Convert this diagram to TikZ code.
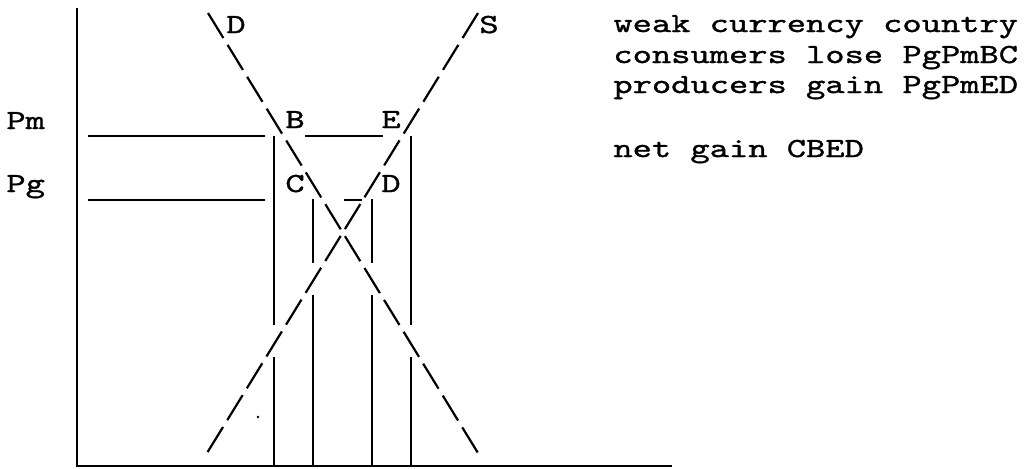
\documentclass[tikz,border=0pt]{standalone}
\usepackage{fontspec}
% slab-serif typewriter face, widened to the typed pitch
\newfontfamily\typer[FakeStretch=1.33,FakeBold=1.2]{lmmono10-regular.otf}
\begin{document}
\begin{tikzpicture}[x=0.5pt,y=-0.5pt,
  rule/.style={line width=1.1pt},
  curve/.style={line width=1.1pt, dash pattern=on 14.7pt off 4pt},
  lbl/.style={anchor=base west, inner sep=0pt, font=\typer\fontsize{13.8}{16}\selectfont}]
\useasboundingbox (0,0) rectangle (1034,468);

% axes
\coordinate (O) at (77,466);
\coordinate (ytop) at (77,8);
\coordinate (xend) at (672,466);
\draw[rule] (ytop) -- (O) -- (xend);

% price levels
\coordinate (pmL) at (88,136);  \coordinate (pmR) at (265,136);
\coordinate (beL) at (305,136); \coordinate (beR) at (383,136);
\coordinate (pgL) at (88,200);  \coordinate (pgR) at (265,200);
\coordinate (cdL) at (344,200); \coordinate (cdR) at (362,200);
\draw[rule] (pmL) -- (pmR) (beL) -- (beR) (pgL) -- (pgR) (cdL) -- (cdR);

% quantity drops (broken where the curves pass)
\coordinate (a1) at (274,136); \coordinate (a2) at (274,325);
\coordinate (a3) at (274,357); \coordinate (a4) at (274,466);
\coordinate (b1) at (313,199); \coordinate (b2) at (313,263);
\coordinate (b3) at (313,295); \coordinate (b4) at (313,466);
\coordinate (c1) at (372,199); \coordinate (c2) at (372,263);
\coordinate (c3) at (372,295); \coordinate (c4) at (372,466);
\coordinate (d1) at (411,136); \coordinate (d2) at (411,325);
\coordinate (d3) at (411,357); \coordinate (d4) at (411,466);
\draw[rule] (a1) -- (a2) (a3) -- (a4)
            (b1) -- (b2) (b3) -- (b4)
            (c1) -- (c2) (c3) -- (c4)
            (d1) -- (d2) (d3) -- (d4);

% demand and supply
\coordinate (Dtop) at (208,13); \coordinate (Dbot) at (478,453);
\coordinate (Stop) at (478,13); \coordinate (Sbot) at (207,453);
\draw[curve] (Dtop) -- (Dbot);
\draw[curve] (Stop) -- (Sbot);

\fill (258,417) circle (1.3);

% labels
\node[lbl] (lD) at (226,33) {D};
\node[lbl] (lS) at (479,33) {S};
\node[lbl] (lPm) at (6,129) {Pm};
\node[lbl] (lPg) at (6,192) {Pg};
\node[lbl] (lB) at (285,128) {B};
\node[lbl] (lE) at (381,128) {E};
\node[lbl] (lC) at (285,192) {C};
\node[lbl] (lD2) at (381,192) {D};

\node[lbl] (t1) at (613,32) {weak currency country};
\node[lbl] (t2) at (613,63) {consumers lose PgPmBC};
\node[lbl] (t3) at (613,93) {producers gain PgPmED};
\node[lbl] (t4) at (613,157) {net gain CBED};
\end{tikzpicture}
\end{document}
